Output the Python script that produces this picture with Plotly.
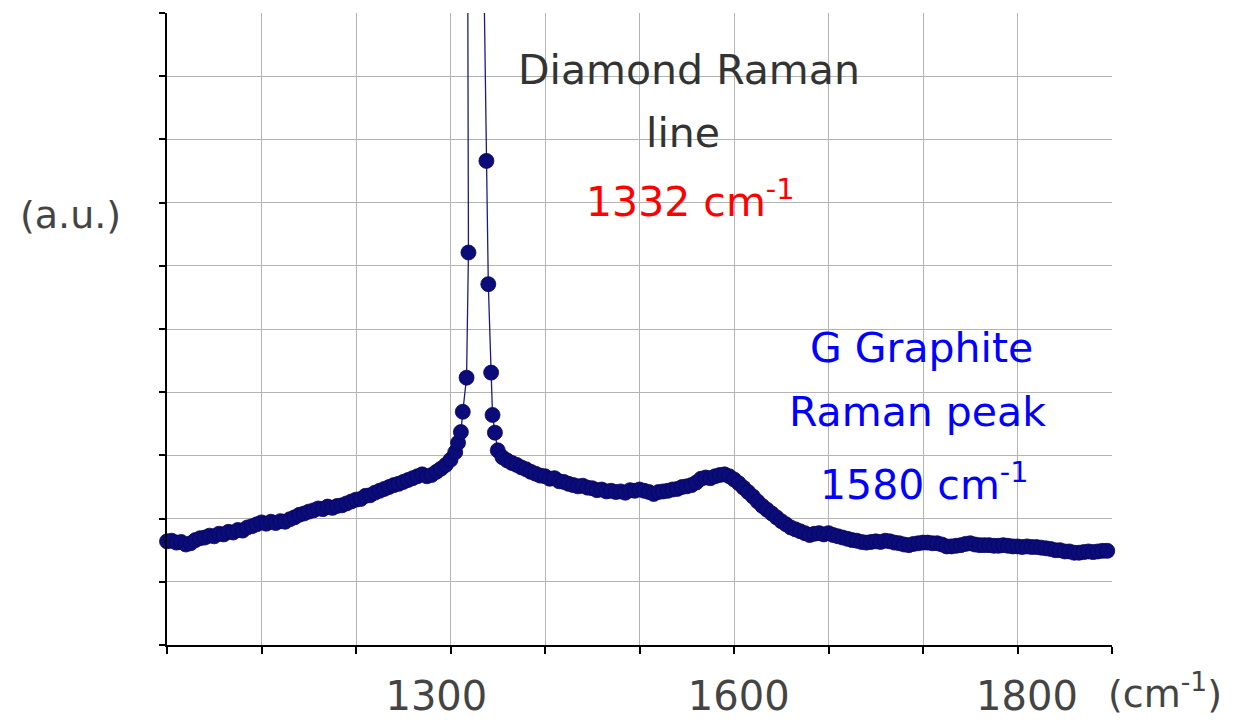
import plotly.graph_objects as go

# Raman spectrum (wavenumber in cm^-1, intensity in a.u.)
wavenumber = [
    995, 1000, 1005, 1010, 1015, 1020, 1025, 1030, 1035, 1040, 1045, 1050, 1055, 1060, 1065,
    1070, 1075, 1080, 1085, 1090, 1095, 1100, 1105, 1110, 1115, 1120, 1125, 1130, 1135, 1140,
    1145, 1150, 1155, 1160, 1165, 1170, 1175, 1180, 1185, 1190, 1195, 1200, 1205, 1210, 1215,
    1220, 1225, 1230, 1235, 1240, 1245, 1250, 1255, 1260, 1265, 1270, 1275, 1280, 1285, 1290,
    1295, 1300, 1305, 1308, 1311, 1313, 1317, 1319, 1318, 1334, 1338, 1340, 1343, 1344.5, 1347,
    1350, 1355, 1360, 1365, 1370, 1375, 1380, 1385, 1390, 1395, 1400, 1405, 1410, 1415, 1420,
    1425, 1430, 1435, 1440, 1445, 1450, 1455, 1460, 1465, 1470, 1475, 1480, 1485, 1490, 1495,
    1500, 1505, 1510, 1515, 1520, 1525, 1530, 1535, 1540, 1545, 1550, 1555, 1560, 1565, 1570,
    1575, 1580, 1585, 1590, 1595, 1600, 1605, 1610, 1615, 1620, 1625, 1630, 1635, 1640, 1645,
    1650, 1655, 1660, 1665, 1670, 1675, 1680, 1685, 1690, 1695, 1700, 1705, 1710, 1715, 1720,
    1725, 1730, 1735, 1740, 1745, 1750, 1755, 1760, 1765, 1770, 1775, 1780, 1785, 1790, 1795,
    1800, 1805, 1810, 1815, 1820, 1825, 1830, 1835, 1840, 1845, 1850, 1855, 1860, 1865, 1870,
    1875, 1880, 1885, 1890, 1895, 1900, 1905, 1910, 1915, 1920, 1925, 1930, 1935, 1940, 1945,
    1950, 1955, 1960, 1965, 1970, 1975, 1980, 1985, 1990, 1995,
]
intensity = [
    1.66, 1.64, 1.65, 1.62, 1.63, 1.59, 1.61, 1.66, 1.69, 1.70, 1.73, 1.72, 1.76, 1.75, 1.79,
    1.78, 1.82, 1.81, 1.86, 1.88, 1.91, 1.94, 1.92, 1.95, 1.93, 1.96, 1.95, 1.99, 2.02, 2.06,
    2.08, 2.11, 2.13, 2.16, 2.15, 2.19, 2.17, 2.20, 2.21, 2.24, 2.27, 2.30, 2.31, 2.36, 2.37,
    2.41, 2.44, 2.47, 2.50, 2.53, 2.55, 2.58, 2.61, 2.64, 2.67, 2.70, 2.67, 2.69, 2.74, 2.79,
    2.85, 2.93, 3.05, 3.20, 3.37, 3.69, 4.23, 6.21, 12.0, 12.0, 7.66, 5.71, 4.31, 3.64, 3.36,
    3.08, 2.97, 2.92, 2.88, 2.85, 2.81, 2.78, 2.74, 2.71, 2.68, 2.67, 2.63, 2.64, 2.59, 2.58,
    2.55, 2.53, 2.51, 2.52, 2.49, 2.48, 2.45, 2.46, 2.43, 2.44, 2.42, 2.43, 2.41, 2.45, 2.44,
    2.46, 2.44, 2.42, 2.39, 2.42, 2.43, 2.44, 2.46, 2.47, 2.50, 2.51, 2.53, 2.57, 2.63, 2.65,
    2.64, 2.67, 2.69, 2.70, 2.67, 2.62, 2.56, 2.49, 2.42, 2.35, 2.27, 2.20, 2.14, 2.08, 2.02,
    1.96, 1.91, 1.86, 1.83, 1.80, 1.77, 1.74, 1.76, 1.77, 1.75, 1.77, 1.74, 1.72, 1.70, 1.68,
    1.66, 1.65, 1.63, 1.62, 1.63, 1.64, 1.63, 1.65, 1.64, 1.62, 1.61, 1.59, 1.58, 1.60, 1.61,
    1.62, 1.62, 1.61, 1.61, 1.59, 1.56, 1.56, 1.57, 1.58, 1.60, 1.61, 1.59, 1.58, 1.58, 1.58,
    1.57, 1.57, 1.58, 1.57, 1.56, 1.56, 1.55, 1.56, 1.55, 1.55, 1.54, 1.53, 1.52, 1.50, 1.50,
    1.48, 1.48, 1.46, 1.46, 1.47, 1.48, 1.47, 1.48, 1.49, 1.49,
]

# Axis tick labels as printed on the picture
x_label_pos = [1285, 1605, 1910]
x_label_text = ["1300", "1600", "1800"]

FONT = "DejaVu Sans"
GRID = "#b4b4b4"

fig = go.Figure()
fig.add_trace(go.Scatter(
    x=wavenumber, y=intensity, mode="lines+markers",
    line=dict(color="#1c1c80", width=1.3),
    marker=dict(color="#0b0b7a", size=15, line=dict(color="#06065e", width=0.8)),
    cliponaxis=False, showlegend=False, hoverinfo="x+y",
))

fig.update_layout(
    width=1240, height=723,
    margin=dict(l=167, r=128, t=13, b=78, autoexpand=False),
    paper_bgcolor="white", plot_bgcolor="white",
    font=dict(family=FONT, color="#444444"),
    xaxis=dict(
        range=[1000, 2000], tickmode="array", tickvals=x_label_pos, ticktext=x_label_text,
        ticks="", showgrid=False, zeroline=False, automargin=False,
        showline=True, linecolor="black", linewidth=2,
        tickfont=dict(size=40, color="#444444", family=FONT),
        ticklabelstandoff=15,
        minor=dict(tick0=1000, dtick=100, ticks="outside", ticklen=7, tickcolor="black",
                   tickwidth=1.5, showgrid=True, gridcolor=GRID, gridwidth=1.3),
    ),
    yaxis=dict(
        range=[0, 10], dtick=1, tick0=0, showticklabels=False, automargin=False,
        ticks="outside", ticklen=6, tickcolor="black", tickwidth=1.5,
        showgrid=True, gridcolor=GRID, gridwidth=1.3, zeroline=False,
        showline=True, linecolor="black", linewidth=2,
    ),
)

ann = [
    dict(text="Diamond Raman", x=1552, y=9.10, color="#333333"),
    dict(text="line", x=1546, y=8.10, color="#333333"),
    dict(text="1332 cm<sup>-1</sup>", x=1553, y=7.05, color="#ff0000"),
    dict(text="G Graphite", x=1798, y=4.70, color="#0000ff"),
    dict(text="Raman peak", x=1794, y=3.68, color="#0000ff"),
    dict(text="1580 cm<sup>-1</sup>", x=1801, y=2.58, color="#0000ff"),
]
for a in ann:
    fig.add_annotation(x=a["x"], y=a["y"], xref="x", yref="y", text=a["text"],
                       showarrow=False, xanchor="center", yanchor="middle",
                       font=dict(size=41, color=a["color"], family=FONT))

fig.add_annotation(x=-0.102, y=0.68, xref="paper", yref="paper", text="(a.u.)",
                   showarrow=False, xanchor="center", yanchor="middle",
                   font=dict(size=38, color="#444444", family=FONT))
fig.add_annotation(x=1.056, y=-0.072, xref="paper", yref="paper", text="(cm<sup>-1</sup>)",
                   showarrow=False, xanchor="center", yanchor="middle",
                   font=dict(size=38, color="#444444", family=FONT))

fig.write_html("out.html")
